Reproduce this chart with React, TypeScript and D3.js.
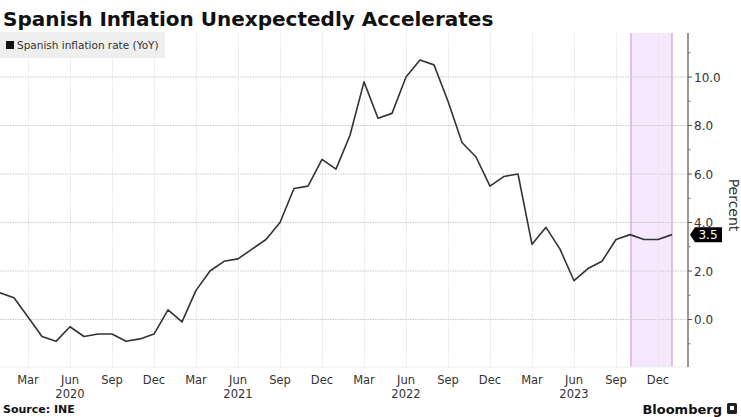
import * as d3 from "d3";
import { useEffect, useRef } from "react";

// monthly HICP YoY, Jan 2020 .. Jan 2024
const months = d3.range(0, 49);
const inflation = [
  1.1, 0.9, 0.1, -0.7, -0.9, -0.3, -0.7, -0.6, -0.6, -0.9, -0.8, -0.6,
  0.4, -0.1, 1.2, 2.0, 2.4, 2.5, 2.9, 3.3, 4.0, 5.4, 5.5, 6.6,
  6.2, 7.6, 9.8, 8.3, 8.5, 10.0, 10.7, 10.5, 9.0, 7.3, 6.7, 5.5,
  5.9, 6.0, 3.1, 3.8, 2.9, 1.6, 2.1, 2.4, 3.3, 3.5, 3.3, 3.3,
  3.5,
];
const yTicks = [0, 2, 4, 6, 8, 10];
const yMinor = [-1, 1, 3, 5, 7, 9, 11];
// month index of each quarter label
const xTicks = d3.range(2, 48, 3);
const monthNames = ["Mar", "Jun", "Sep", "Dec"];
const years = [2020, 2021, 2022, 2023];
// Oct 2023 .. Jan 2024
const shade = [45, 48];

function App() {
  const ref = useRef<SVGSVGElement>(null);

  useEffect(() => {
    const svg = d3.select(ref.current);
    svg.selectAll("*").remove();

    const font = "'DejaVu Sans', Verdana, sans-serif";
    const top = 33,
      bottom = 367,
      axisX = 688;

    const x = d3.scaleLinear().domain([0, 48]).range([0, 672]);
    const y = d3.scaleLinear().domain([0, 10]).range([319.5, 77]);

    // title
    svg
      .append("text")
      .attr("x", 3)
      .attr("y", 26)
      .text("Spanish Inflation Unexpectedly Accelerates")
      .style("font-family", font)
      .style("font-weight", "bold")
      .style("font-size", "20px")
      .style("fill", "#111");

    // shaded period
    const s0 = shade[0] + 0.07;
    svg
      .append("rect")
      .attr("x", x(s0))
      .attr("y", top)
      .attr("width", x(shade[1]) - x(s0))
      .attr("height", bottom - top)
      .attr("fill", "#f6e8fc");
    [s0, shade[1]].forEach((m) => {
      svg
        .append("line")
        .attr("x1", x(m))
        .attr("x2", x(m))
        .attr("y1", top)
        .attr("y2", bottom)
        .attr("stroke", "#dcaaf0")
        .attr("stroke-width", 1.5);
    });

    // grid
    svg
      .append("g")
      .selectAll("line")
      .data(yTicks)
      .join("line")
      .attr("x1", 0)
      .attr("x2", axisX)
      .attr("y1", (d) => y(d))
      .attr("y2", (d) => y(d))
      .attr("stroke", "#c8c8c8")
      .attr("stroke-dasharray", "1.5,1");
    svg
      .append("g")
      .selectAll("line")
      .data(xTicks)
      .join("line")
      .attr("x1", (d) => x(d) + 0.5)
      .attr("x2", (d) => x(d) + 0.5)
      .attr("y1", top)
      .attr("y2", bottom)
      .attr("stroke", "#e4e4e4")
      .attr("stroke-dasharray", "1.5,1");
    svg
      .append("line")
      .attr("x1", 0)
      .attr("x2", axisX)
      .attr("y1", bottom)
      .attr("y2", bottom)
      .attr("stroke", "#eeeeee");

    // legend
    svg
      .append("rect")
      .attr("x", 0)
      .attr("y", 32)
      .attr("width", 165)
      .attr("height", 26)
      .attr("fill", "#eeeeee");
    svg
      .append("rect")
      .attr("x", 6)
      .attr("y", 41)
      .attr("width", 8)
      .attr("height", 8)
      .attr("fill", "#111");
    svg
      .append("text")
      .attr("x", 17)
      .attr("y", 49)
      .text("Spanish inflation rate (YoY)")
      .style("font-family", font)
      .style("font-size", "10.5px")
      .style("fill", "#333");

    // line
    const line = d3
      .line<number>()
      .x((d, i) => x(months[i]))
      .y((d) => y(d));
    svg
      .append("path")
      .datum(inflation)
      .attr("d", line)
      .attr("fill", "none")
      .attr("stroke", "#333")
      .attr("stroke-width", 1.6)
      .attr("stroke-linejoin", "round");

    // right axis
    svg
      .append("line")
      .attr("x1", axisX)
      .attr("x2", axisX)
      .attr("y1", top)
      .attr("y2", bottom)
      .attr("stroke", "#555")
      .attr("stroke-width", 1.2);
    svg
      .append("g")
      .selectAll("line")
      .data(yTicks)
      .join("line")
      .attr("x1", axisX)
      .attr("x2", axisX + 4)
      .attr("y1", (d) => y(d))
      .attr("y2", (d) => y(d))
      .attr("stroke", "#555");
    svg
      .append("g")
      .selectAll("line")
      .data(yMinor)
      .join("line")
      .attr("x1", axisX)
      .attr("x2", axisX + 2.5)
      .attr("y1", (d) => y(d))
      .attr("y2", (d) => y(d))
      .attr("stroke", "#777");
    svg
      .append("g")
      .selectAll("text")
      .data(yTicks)
      .join("text")
      .attr("x", axisX + 6)
      .attr("y", (d) => y(d) + 4.5)
      .text((d) => d3.format(".1f")(d))
      .style("font-family", font)
      .style("font-size", "12px")
      .style("fill", "#333");

    svg
      .append("text")
      .attr("transform", `translate(729,205) rotate(90)`)
      .attr("text-anchor", "middle")
      .text("Percent")
      .style("font-family", font)
      .style("font-size", "14px")
      .style("fill", "#333");

    // last value tag
    const last = inflation[inflation.length - 1];
    const ly = y(last);
    svg
      .append("path")
      .attr(
        "d",
        `M${axisX + 2},${ly} L${axisX + 7},${ly - 7.5} L${axisX + 34},${ly - 7.5} L${axisX + 34},${ly + 7.5} L${axisX + 7},${ly + 7.5} Z`
      )
      .attr("fill", "#000");
    svg
      .append("text")
      .attr("x", axisX + 20)
      .attr("y", ly + 4.5)
      .attr("text-anchor", "middle")
      .text(d3.format(".1f")(last))
      .style("font-family", font)
      .style("font-size", "12px")
      .style("fill", "#fff");

    // x labels
    svg
      .append("g")
      .selectAll("text")
      .data(xTicks)
      .join("text")
      .attr("x", (d) => x(d))
      .attr("y", 384)
      .attr("text-anchor", "middle")
      .text((d, i) => monthNames[i % 4])
      .style("font-family", font)
      .style("font-size", "11.5px")
      .style("fill", "#333");
    svg
      .append("g")
      .selectAll("text")
      .data(years)
      .join("text")
      .attr("x", (d, i) => x(5 + i * 12))
      .attr("y", 398)
      .attr("text-anchor", "middle")
      .text((d) => d)
      .style("font-family", font)
      .style("font-size", "11.5px")
      .style("fill", "#333");

    // footer
    svg
      .append("text")
      .attr("x", 3)
      .attr("y", 413)
      .text("Source: INE")
      .style("font-family", font)
      .style("font-weight", "bold")
      .style("font-size", "11px")
      .style("fill", "#111");
    svg
      .append("text")
      .attr("x", 722)
      .attr("y", 414)
      .attr("text-anchor", "end")
      .text("Bloomberg")
      .style("font-family", font)
      .style("font-weight", "bold")
      .style("font-size", "13px")
      .style("fill", "#111");
    svg
      .append("rect")
      .attr("x", 727)
      .attr("y", 403)
      .attr("width", 10)
      .attr("height", 11)
      .attr("rx", 1.5)
      .attr("fill", "#222");
    svg
      .append("rect")
      .attr("x", 730)
      .attr("y", 406)
      .attr("width", 4)
      .attr("height", 4)
      .attr("fill", "#fff");
  }, []);

  return (
    <svg
      ref={ref}
      width={741}
      height={417}
      style={{ position: "absolute", left: 0, top: 0, background: "#fff" }}
    />
  );
}

export default App;
